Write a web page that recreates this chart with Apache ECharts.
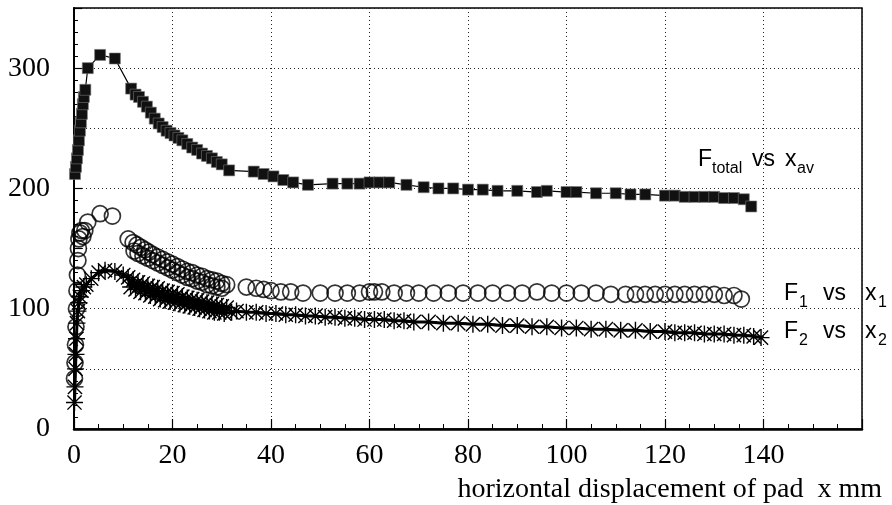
<!DOCTYPE html>
<html>
<head>
<meta charset="utf-8">
<script src="https://cdn.jsdelivr.net/npm/echarts/dist/echarts.min.js"></script>
<style>
  html, body { margin: 0; padding: 0; background: #fff; }
  #chart { width: 892px; height: 505px; }
</style>
</head>
<body>
<div id="chart"></div>
<script>
// F_total vs x_av  (x mm, force)
const fTotal = [
  [0.2,212],[0.4,218],[0.6,225],[0.8,232],[1.0,240],[1.2,248],[1.4,255],[1.6,262],[1.8,270],[2.0,276],
  [2.3,282],[2.8,300],[5.3,311],[8.3,308],[11.6,283],[12.5,278],[13.2,276],[14.0,272],[14.8,268],[15.6,263],
  [16.4,258],[17.2,254],[18.0,251],[18.8,248],[19.6,246],[20.4,244],[21.2,242],[22.0,240],[23.0,237],[24.0,234],
  [25.0,232],[26.0,229],[27.0,227],[28.0,225],[29.0,222],[30.0,220],[31.5,215],[36.5,214],[38.5,212],[40.5,210],
  [42.5,207],[44.5,205],[47.5,203],[52.5,204],[55.5,204],[58,204],[60,205],[62,205],[64,205],[67.5,203],
  [71,201],[74,200],[77,200],[80,199],[83,199],[86,198],[90,198],[94,197],[96,198],[100,197],
  [102,197],[106,196],[110,196],[113,195],[116,195],[120,194],[122,194],[124,193],[126,193],[128,193],
  [130,193],[132,192],[134,192],[136,191],[137.5,185]
];

// F1 vs x1
const f1 = [
  [0.1,42],[0.2,55],[0.3,70],[0.4,85],[0.5,100],[0.6,115],[0.7,128],[0.8,140],[0.9,150],[1.0,158],
  [1.2,163],[1.5,165],[1.8,160],[2.2,165],[2.8,172],[5.3,179],[7.8,177],[11.0,158],[12.0,155],[12.8,153],
  [13.6,151],[14.4,149],[15.2,147],[16.0,145],[17,143],[18,141],[19,139],[20,137],[21,135],[22,133],
  [23,131],[24,130],[25,128],[26,127],[27,125],[28,124],[29,123],[30,121],[31,120],[35,118],
  [12.2,148],[13,146],[14,144],[15,142],[16,140],[17,138],[18,136],[19,134],[20,132],[21,130],
  [22,128],[23,126],[24,125],[25,123],[26,122],[27,120],[28,119],[29,118],[30,117],
  [37,117],[38.5,116],[40,115],[42,114],[44,114],[46.5,113],[50,113],[53,113],[55.5,113],[58,113],
  [60,114],[61,114],[62.5,114],[65,113],[67.5,113],[70,113],[73,113],[76,113],[79,113],[82,113],
  [85,113],[88,113],[91,113],[94,114],[97,113],[100,113],[103,113],[106,113],[109,112],[112,112],
  [114,112],[116,112],[118,112],[120,112],[122,112],[124,112],[126,112],[128,112],[130,112],[132,111],
  [134,111],[135.5,108]
];

// F2 vs x2
const f2 = [
  [0.1,22],[0.2,35],[0.3,50],[0.4,62],[0.5,75],[0.6,88],[0.8,98],[1.0,105],[1.2,110],[1.5,115],
  [2.0,118],[2.5,120],[3.5,125],[5,130],[6.3,132],[8.3,131],[10,128],
  [11,126],[11.5,118],[12,124],[12.5,116],[13,122],[13.5,114],[14,121],[14.5,113],[15,119],[15.5,111],
  [16,118],[16.5,110],[17,117],[17.5,108],[18,115],[18.5,107],[19,114],[19.5,106],[20,113],[20.5,105],
  [21,112],[21.5,104],[22,110],[22.5,103],[23,109],[23.5,102],[24,108],[24.5,101],[25,107],[25.5,100],
  [26,106],[26.5,99],[27,105],[27.5,98],[28,104],[28.5,97],[29,103],[29.5,97],[30,102],[30.5,96],
  [31,101],[32,97],[33,98],[35,97],
  [37,97],[39,96],[41,96],[43,95],[45,95],[47,94],[49,94],[51,93],[53,93],[55,92],
  [57,92],[59,91],[61,91],[63,91],[65,90],[67,90],[69,89],[72,89],[75,88],[78,88],
  [81,87],[84,87],[87,86],[90,86],[93,85],[96,85],[99,84],[102,84],[105,83],[108,83],
  [111,82],[114,82],[117,81],[120,81],[122,80],[124,80],[126,80],[128,79],[130,79],[132,79],
  [134,78],[136,78],[138,77],[139.5,76]
];

const xTicks = [0, 20, 40, 60, 80, 100, 120, 140];
const yTicks = [0, 100, 200, 300];

const chart = echarts.init(document.getElementById('chart'));

const serif = 'Liberation Serif';
const sans = 'Liberation Sans';

// small helper for the F.. vs x.. labels with subscripts
function lbl(x, y, txt, size) {
  return {
    type: 'text', x: x, y: y, silent: true,
    style: { text: txt, font: size + 'px "' + sans + '"', fill: '#000', verticalAlign: 'top' }
  };
}

const star = 'path://M0,0L10,10M10,0L0,10M5,-1L5,11M-1,5L11,5';

chart.setOption({
  animation: false,
  backgroundColor: '#fff',
  grid: { left: 74, right: 30, top: 8, bottom: 76, show: true, borderColor: '#000', borderWidth: 1.5, backgroundColor: 'transparent' },
  xAxis: {
    type: 'value', min: 0, max: 160, interval: 20,
    axisLine: { show: true, onZero: false, lineStyle: { color: '#000', width: 2.5 } },
    axisTick: { show: true, inside: true, length: 10, lineStyle: { color: '#000', width: 1.2 } },
    minorTick: { show: true, splitNumber: 4, length: 5, lineStyle: { color: '#000', width: 1 } },
    splitLine: { show: true, lineStyle: { color: '#222', type: [1, 3], width: 1 } },
    axisLabel: {
      margin: 13, fontFamily: serif, fontSize: 28, color: '#000',
      formatter: v => xTicks.indexOf(v) >= 0 ? String(v) : ''
    }
  },
  yAxis: {
    type: 'value', min: 0, max: 350, interval: 50,
    axisLine: { show: true, onZero: false, lineStyle: { color: '#000', width: 2 } },
    axisTick: { show: true, inside: true, length: 8, lineStyle: { color: '#000', width: 1.2 } },
    minorTick: { show: true, splitNumber: 5, length: 4, lineStyle: { color: '#000', width: 1 } },
    splitLine: { show: true, lineStyle: { color: '#222', type: [1, 3], width: 1 } },
    axisLabel: {
      margin: 24, fontFamily: serif, fontSize: 28, color: '#000',
      formatter: v => yTicks.indexOf(v) >= 0 ? String(v) : ''
    }
  },
  series: [
    {
      name: 'F2', type: 'line', data: f2,
      symbol: star, symbolSize: 17, symbolKeepAspect: true,
      itemStyle: { color: 'transparent', borderColor: '#000', borderWidth: 1.4 },
      lineStyle: { color: '#000', width: 3 }
    },
    {
      name: 'F1', type: 'scatter', data: f1,
      symbol: 'circle', symbolSize: 16,
      itemStyle: { color: 'transparent', borderColor: '#000', borderWidth: 1.7 }
    },
    {
      name: 'Ftotal', type: 'line', data: fTotal,
      symbol: 'rect', symbolSize: 11,
      itemStyle: { color: '#111', borderColor: '#777', borderWidth: 0.6 },
      lineStyle: { color: '#000', width: 1.2 }
    }
  ],
  graphic: [
    {
      type: 'text', right: 10, top: 476, silent: true,
      style: { text: 'horizontal displacement of pad  x mm', font: '28px "' + serif + '"', fill: '#000' }
    },
    lbl(698, 148, 'F', 23), lbl(712, 161, 'total', 16), lbl(752, 148, 'vs', 23),
    lbl(785, 148, 'x', 23), lbl(797, 161, 'av', 16),
    lbl(784, 282, 'F', 23), lbl(799, 295, '1', 16), lbl(823, 282, 'vs', 23),
    lbl(865, 282, 'x', 23), lbl(878, 295, '1', 16),
    lbl(784, 320, 'F', 23), lbl(799, 333, '2', 16), lbl(823, 320, 'vs', 23),
    lbl(865, 320, 'x', 23), lbl(878, 333, '2', 16)
  ]
});
</script>
</body>
</html>
